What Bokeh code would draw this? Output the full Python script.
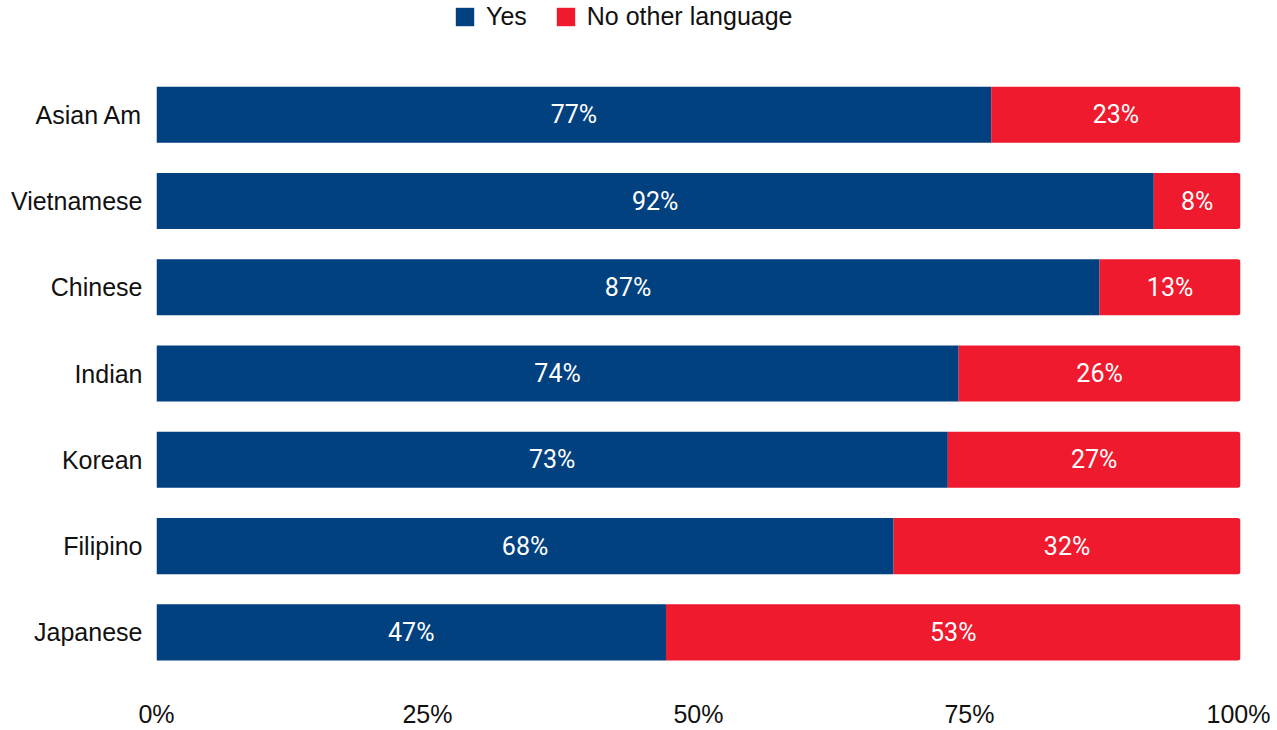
from bokeh.plotting import figure
from bokeh.models import ColumnDataSource, Range1d, NumeralTickFormatter, Legend, LegendItem, FixedTicker
from bokeh.embed import file_html
from bokeh.resources import INLINE
from bokeh.core.properties import value

groups = ["Asian Am", "Vietnamese", "Chinese", "Indian", "Korean", "Filipino", "Japanese"]
yes = [77, 92, 87, 74, 73, 68, 47]
no_other = [23, 8, 13, 26, 27, 32, 53]
series_names = ["Yes", "No other language"]
tick_values = [0, 25, 50, 75, 100]

BLUE = "#02417f"
RED = "#ef1a2d"

n = len(groups)
pos = [n - 1 - i for i in range(n)]  # first group at top
yes_frac = [v / 100 for v in yes]
no_frac = [v / 100 for v in no_other]
src = ColumnDataSource(dict(
    y=pos,
    yes_end=yes_frac,
    no_start=yes_frac,
    no_end=[a + b for a, b in zip(yes_frac, no_frac)],
    yes_mid=[a / 2 for a in yes_frac],
    no_mid=[a + b / 2 for a, b in zip(yes_frac, no_frac)],
    yes_lbl=[f"{v}%" for v in yes],
    no_lbl=[f"{v}%" for v in no_other],
))

p = figure(
    width=1270, height=730,
    y_range=Range1d(-0.477, 7.325),
    x_range=Range1d(0, 1),
    output_backend="svg", toolbar_location=None,
    min_border_left=156, min_border_right=30, min_border_top=0, min_border_bottom=57,
)

r_yes = p.hbar(y="y", left=0, right="yes_end", height=0.65, source=src,
               fill_color=BLUE, line_color=None)
r_no = p.hbar(y="y", left="no_start", right="no_end", height=0.65, source=src,
              fill_color=RED, line_color=None, border_radius=(0, 3, 3, 0))

lbl_font = value("Roboto")
p.text(x="yes_mid", y="y", text="yes_lbl", source=src, text_color="white",
       text_font=lbl_font, text_font_size="25px", text_align="center", text_baseline="middle")
p.text(x="no_mid", y="y", text="no_lbl", source=src, text_color="white",
       text_font=lbl_font, text_font_size="25px", text_align="center", text_baseline="middle")

p.xaxis.ticker = FixedTicker(ticks=[t / 100 for t in tick_values])
p.xaxis.formatter = NumeralTickFormatter(format="0%")
p.yaxis.ticker = FixedTicker(ticks=pos)
p.yaxis.major_label_overrides = {pv: g for pv, g in zip(pos, groups)}
for ax in (p.xaxis, p.yaxis):
    ax.axis_line_color = None
    ax.major_tick_line_color = None
    ax.minor_tick_line_color = None
    ax.major_label_text_font = "Liberation Sans"
    ax.major_label_text_font_size = "25px"
    ax.major_label_text_color = "#111111"
p.xaxis.major_label_standoff = 20
p.yaxis.major_label_standoff = 8

p.xgrid.grid_line_color = None
p.ygrid.grid_line_color = None
p.outline_line_color = None

legend = Legend(items=[LegendItem(label=series_names[0], renderers=[r_yes]),
                       LegendItem(label=series_names[1], renderers=[r_no])],
                orientation="horizontal", location=(297, 642),
                label_text_font="Liberation Sans", label_text_font_size="25px",
                label_text_color="#111111",
                glyph_width=23, glyph_height=23, spacing=27, label_standoff=10,
                border_line_color=None, background_fill_alpha=0,
                margin=0, padding=0)
p.add_layout(legend, "center")

open("out.html", "w").write(file_html(p, INLINE))
